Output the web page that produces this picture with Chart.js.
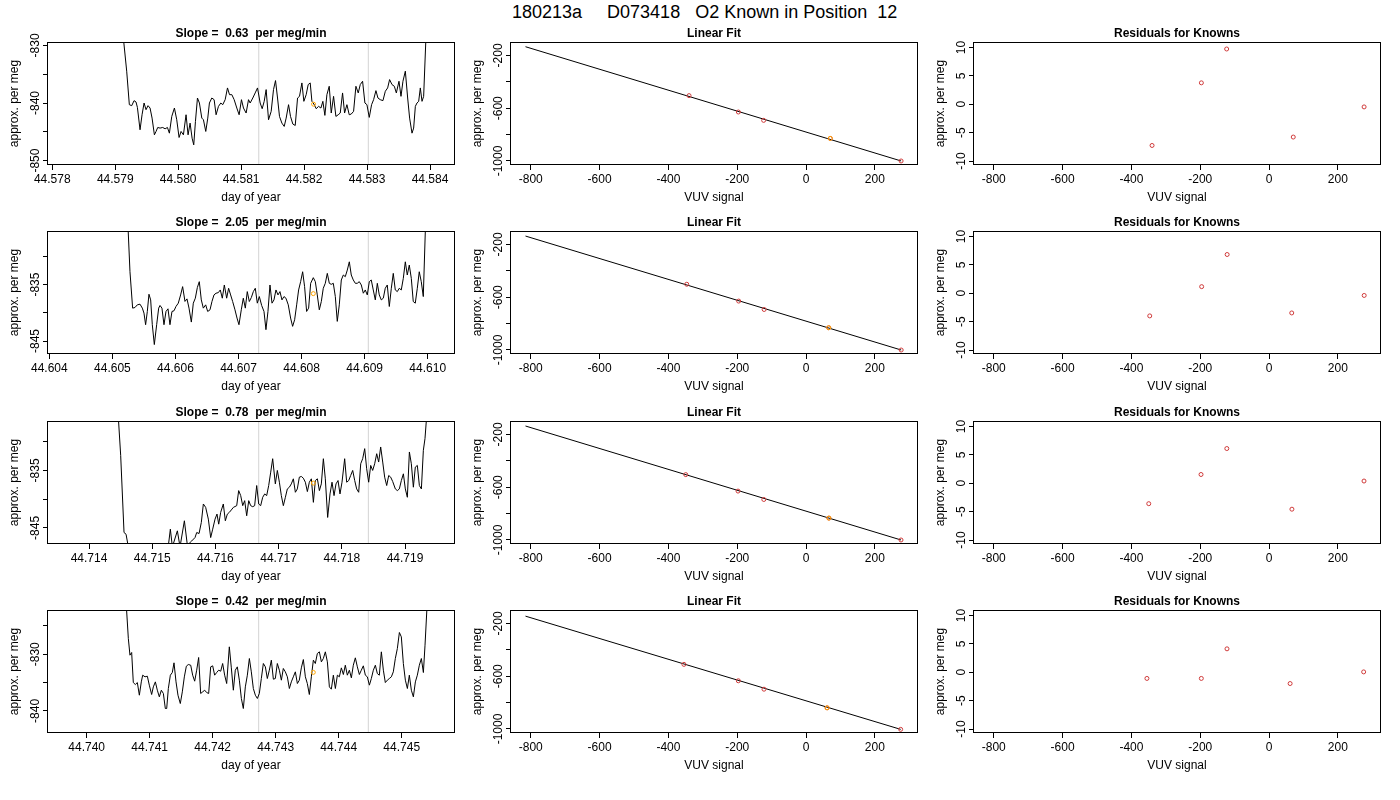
<!DOCTYPE html>
<html>
<head>
<meta charset="utf-8">
<title>180213a D073418 O2 Known in Position 12</title>
<script src="https://cdn.jsdelivr.net/npm/chart.js@4.4.1/dist/chart.umd.min.js"></script>
<style>
  html, body { margin: 0; padding: 0; background: #fff; overflow: hidden; }
  #page { position: relative; width: 1400px; height: 800px; }
  #main { position: absolute; left: 512px; top: 2px; font: 18px "Liberation Sans", Arial, sans-serif;
          white-space: pre; line-height: 20px; color: #000; }
  canvas { position: absolute; }
</style>
</head>
<body>
<div id="page">
  <div id="main">180213a     D073418   O2 Known in Position  12</div>
</div>
<script>

/* ---- time series of each known run (day of year vs approx. per meg) ---- */
const day1X = [44.579118, 44.579182, 44.579224, 44.579262, 44.579299, 44.579330, 44.579352, 44.579394, 44.579426, 44.579458,
  44.579489, 44.579521, 44.579553, 44.579585, 44.579622, 44.579648, 44.579675, 44.579712, 44.579754, 44.579792,
  44.579829, 44.579860, 44.579898, 44.579940, 44.579977, 44.580014, 44.580046, 44.580083, 44.580125, 44.580157,
  44.580189, 44.580221, 44.580247, 44.580274, 44.580306, 44.580337, 44.580375, 44.580401, 44.580438, 44.580470,
  44.580496, 44.580534, 44.580571, 44.580602, 44.580640, 44.580677, 44.580708, 44.580746, 44.580783, 44.580815,
  44.580852, 44.580889, 44.580931, 44.580968, 44.581005, 44.581037, 44.581079, 44.581117, 44.581143, 44.581185,
  44.581223, 44.581260, 44.581302, 44.581334, 44.581366, 44.581397, 44.581435, 44.581477, 44.581514, 44.581546,
  44.581578, 44.581609, 44.581647, 44.581684, 44.581715, 44.581753, 44.581784, 44.581821, 44.581859, 44.581896,
  44.581927, 44.581965, 44.581996, 44.582033, 44.582065, 44.582097, 44.582124, 44.582155, 44.582192, 44.582230,
  44.582267, 44.582298, 44.582330, 44.582362, 44.582399, 44.582431, 44.582468, 44.582505, 44.582542, 44.582574,
  44.582611, 44.582643, 44.582680, 44.582717, 44.582749, 44.582786, 44.582823, 44.582860, 44.582892, 44.582929,
  44.582966, 44.582998, 44.583035, 44.583072, 44.583104, 44.583141, 44.583173, 44.583210, 44.583252, 44.583290,
  44.583327, 44.583358, 44.583396, 44.583433, 44.583465, 44.583507, 44.583539, 44.583570, 44.583608, 44.583645,
  44.583676, 44.583714, 44.583740, 44.583767, 44.583793, 44.583820, 44.583846, 44.583873, 44.583899, 44.583941];
const day1Y = [-827.5, -834.47, -840.29, -840.46, -839.59, -839.82, -840.76, -844.65, -842.04, -840.00,
  -841.16, -840.46, -840.87, -842.62, -845.53, -844.94, -844.25, -844.36, -844.25, -844.48,
  -844.25, -845.24, -842.33, -840.87, -842.91, -845.99, -844.94, -845.53, -842.04, -845.53,
  -843.49, -846.11, -847.27, -843.20, -839.13, -840.00, -842.62, -842.91, -844.94, -842.62,
  -840.00, -839.13, -839.42, -842.04, -840.58, -840.00, -840.29, -839.42, -837.38, -838.55,
  -838.55, -839.42, -840.87, -842.04, -839.42, -840.87, -841.74, -839.42, -840.00, -839.13,
  -838.25, -837.38, -840.00, -840.99, -839.71, -837.67, -842.91, -841.45, -837.67, -836.10,
  -839.13, -842.33, -843.49, -844.07, -842.62, -840.29, -842.33, -843.66, -843.90, -839.13,
  -838.84, -836.51, -839.71, -838.55, -836.80, -836.51, -839.71, -840.17, -840.99, -840.58,
  -840.87, -839.71, -842.15, -838.55, -837.09, -841.74, -838.84, -842.33, -842.04, -841.74,
  -838.25, -841.74, -840.29, -842.04, -841.92, -841.45, -837.09, -838.25, -836.80, -836.22,
  -840.00, -840.29, -842.50, -840.29, -839.42, -837.85, -839.13, -839.42, -839.59, -837.96,
  -837.38, -835.93, -836.80, -837.09, -838.25, -836.22, -838.84, -836.22, -834.47, -839.13,
  -842.62, -845.24, -844.36, -840.58, -840.00, -839.71, -837.38, -839.71, -838.84, -827.0];

const day2X = [44.605237, 44.605279, 44.605321, 44.605358, 44.605395, 44.605438, 44.605475, 44.605501, 44.605527, 44.605554,
  44.605580, 44.605607, 44.605633, 44.605665, 44.605702, 44.605734, 44.605755, 44.605786, 44.605818, 44.605850,
  44.605882, 44.605913, 44.605945, 44.605977, 44.606008, 44.606045, 44.606082, 44.606114, 44.606151, 44.606183,
  44.606215, 44.606252, 44.606283, 44.606315, 44.606347, 44.606378, 44.606410, 44.606442, 44.606479, 44.606511,
  44.606548, 44.606579, 44.606611, 44.606643, 44.606680, 44.606711, 44.606743, 44.606775, 44.606812, 44.606843,
  44.606875, 44.606907, 44.606944, 44.606976, 44.607007, 44.607044, 44.607076, 44.607108, 44.607139, 44.607171,
  44.607203, 44.607235, 44.607266, 44.607298, 44.607330, 44.607367, 44.607404, 44.607435, 44.607467, 44.607499,
  44.607531, 44.607562, 44.607594, 44.607626, 44.607657, 44.607689, 44.607721, 44.607752, 44.607789, 44.607826,
  44.607858, 44.607890, 44.607922, 44.607953, 44.607985, 44.608017, 44.608048, 44.608080, 44.608112, 44.608144,
  44.608186, 44.608218, 44.608249, 44.608281, 44.608313, 44.608344, 44.608376, 44.608408, 44.608440, 44.608471,
  44.608503, 44.608535, 44.608566, 44.608598, 44.608630, 44.608662, 44.608693, 44.608725, 44.608757, 44.608788,
  44.608820, 44.608852, 44.608883, 44.608915, 44.608947, 44.608979, 44.609010, 44.609042, 44.609074, 44.609105,
  44.609137, 44.609169, 44.609201, 44.609232, 44.609264, 44.609296, 44.609327, 44.609359, 44.609391, 44.609423,
  44.609454, 44.609486, 44.609518, 44.609549, 44.609581, 44.609613, 44.609645, 44.609676, 44.609708, 44.609740,
  44.609771, 44.609803, 44.609835, 44.609866, 44.609898, 44.609930, 44.609972];
const day2Y = [-822.0, -832.72, -839.17, -839.06, -838.59, -838.47, -839.17, -840.05, -842.11, -839.76,
  -836.71, -837.71, -842.11, -845.63, -842.11, -839.17, -838.70, -839.17, -842.11, -839.76,
  -839.29, -842.11, -839.76, -839.64, -838.88, -838.29, -836.83, -835.36, -837.98, -837.53,
  -839.17, -841.64, -838.29, -837.41, -835.53, -834.48, -837.71, -839.17, -838.59, -839.76,
  -839.47, -838.00, -836.83, -836.53, -836.42, -835.95, -837.41, -835.07, -837.41, -835.65,
  -836.83, -838.00, -839.47, -840.93, -842.11, -839.47, -837.41, -839.17, -836.24, -838.00,
  -837.30, -836.24, -835.65, -838.29, -837.12, -838.70, -839.76, -842.99, -839.76, -835.07,
  -838.29, -837.71, -835.95, -836.83, -836.24, -837.71, -837.12, -837.41, -838.59, -840.93,
  -842.40, -841.23, -838.59, -835.95, -834.48, -832.72, -835.36, -839.76, -839.17, -834.77,
  -833.77, -834.48, -836.83, -839.47, -838.00, -835.65, -834.77, -833.01, -834.77, -834.95,
  -834.77, -837.12, -841.52, -838.59, -834.18, -833.30, -833.60, -832.42, -830.96, -833.30,
  -834.18, -834.77, -834.77, -834.48, -835.07, -836.53, -835.95, -836.83, -834.48, -834.18,
  -835.95, -837.71, -834.77, -836.83, -837.71, -837.41, -835.65, -835.07, -838.88, -835.65,
  -833.01, -835.95, -836.24, -835.65, -835.95, -833.89, -830.96, -833.30, -831.54, -833.89,
  -838.00, -838.29, -835.65, -832.72, -834.48, -837.12, -822.0];

const day3X = [44.714454, 44.714501, 44.714554, 44.714586, 44.714638, 44.714807, 44.715018, 44.715203, 44.715255, 44.715287,
  44.715319, 44.715398, 44.715440, 44.715509, 44.715556, 44.715625, 44.715677, 44.715704, 44.715741, 44.715777,
  44.715809, 44.715846, 44.715888, 44.715925, 44.715957, 44.715994, 44.716025, 44.716052, 44.716083, 44.716125,
  44.716157, 44.716189, 44.716220, 44.716263, 44.716284, 44.716337, 44.716368, 44.716400, 44.716432, 44.716463,
  44.716495, 44.716527, 44.716558, 44.716590, 44.716621, 44.716653, 44.716685, 44.716716, 44.716748, 44.716780,
  44.716811, 44.716843, 44.716875, 44.716906, 44.716948, 44.716980, 44.717012, 44.717043, 44.717075, 44.717107,
  44.717138, 44.717170, 44.717201, 44.717233, 44.717265, 44.717296, 44.717328, 44.717360, 44.717391, 44.717423,
  44.717455, 44.717486, 44.717518, 44.717550, 44.717581, 44.717613, 44.717645, 44.717676, 44.717708, 44.717739,
  44.717776, 44.717813, 44.717845, 44.717877, 44.717908, 44.717940, 44.717971, 44.718003, 44.718045, 44.718077,
  44.718109, 44.718140, 44.718172, 44.718204, 44.718235, 44.718267, 44.718299, 44.718330, 44.718362, 44.718393,
  44.718425, 44.718457, 44.718488, 44.718520, 44.718552, 44.718583, 44.718615, 44.718647, 44.718678, 44.718710,
  44.718742, 44.718773, 44.718805, 44.718847, 44.718879, 44.718910, 44.718942, 44.718974, 44.719005, 44.719037,
  44.719069, 44.719100, 44.719132, 44.719163, 44.719195, 44.719227, 44.719259, 44.719290, 44.719316, 44.719353];
const day3Y = [-824.0, -832.38, -845.80, -846.10, -849.3, -850.5, -850.8, -850.2, -848.14, -845.22,
  -848.3, -845.51, -848.3, -843.76, -848.0, -847.27, -846.68, -845.80, -845.98, -844.05,
  -840.84, -841.43, -843.47, -846.68, -845.22, -843.47, -842.59, -844.35, -842.30, -840.84,
  -843.76, -842.59, -842.30, -841.72, -841.43, -841.13, -838.51, -839.38, -841.13, -840.26,
  -842.89, -840.26, -841.13, -841.31, -841.13, -837.63, -840.84, -841.13, -839.67, -839.09,
  -839.38, -837.63, -835.30, -832.96, -837.34, -835.00, -837.05, -839.38, -841.13, -839.67,
  -838.22, -837.92, -837.34, -836.46, -838.80, -838.22, -836.17, -836.05, -836.35, -837.05,
  -838.68, -837.05, -836.46, -840.55, -836.76, -836.46, -838.51, -837.34, -832.96, -836.46,
  -843.18, -839.09, -837.05, -839.38, -837.34, -836.76, -839.09, -837.05, -832.96, -837.05,
  -836.76, -835.88, -835.00, -836.76, -838.22, -838.80, -833.84, -832.96, -831.21, -834.71,
  -837.05, -834.13, -835.00, -833.84, -832.09, -833.54, -830.92, -833.54, -836.17, -837.63,
  -835.88, -836.17, -836.93, -838.22, -838.51, -838.22, -836.76, -835.59, -838.22, -839.67,
  -831.79, -833.84, -837.92, -834.42, -834.13, -837.63, -838.22, -831.50, -829.46, -824.0];

const day4X = [44.740624, 44.740661, 44.740687, 44.740714, 44.740740, 44.740772, 44.740804, 44.740836, 44.740867, 44.740889,
  44.740926, 44.740963, 44.740994, 44.741031, 44.741058, 44.741090, 44.741121, 44.741153, 44.741185, 44.741217,
  44.741248, 44.741270, 44.741296, 44.741328, 44.741359, 44.741386, 44.741418, 44.741449, 44.741486, 44.741518,
  44.741550, 44.741582, 44.741613, 44.741651, 44.741682, 44.741714, 44.741746, 44.741777, 44.741809, 44.741841,
  44.741873, 44.741904, 44.741936, 44.741968, 44.742000, 44.742031, 44.742063, 44.742095, 44.742127, 44.742158,
  44.742190, 44.742222, 44.742264, 44.742296, 44.742328, 44.742359, 44.742391, 44.742423, 44.742455, 44.742486,
  44.742518, 44.742550, 44.742582, 44.742613, 44.742645, 44.742677, 44.742709, 44.742740, 44.742772, 44.742804,
  44.742836, 44.742867, 44.742899, 44.742931, 44.742963, 44.742994, 44.743026, 44.743058, 44.743090, 44.743121,
  44.743153, 44.743185, 44.743217, 44.743248, 44.743280, 44.743312, 44.743344, 44.743375, 44.743407, 44.743439,
  44.743471, 44.743502, 44.743534, 44.743566, 44.743598, 44.743629, 44.743661, 44.743693, 44.743725, 44.743756,
  44.743788, 44.743820, 44.743852, 44.743883, 44.743915, 44.743947, 44.743979, 44.744010, 44.744042, 44.744074,
  44.744105, 44.744137, 44.744169, 44.744201, 44.744232, 44.744264, 44.744296, 44.744328, 44.744359, 44.744391,
  44.744423, 44.744455, 44.744487, 44.744518, 44.744550, 44.744582, 44.744613, 44.744645, 44.744677, 44.744709,
  44.744740, 44.744772, 44.744804, 44.744836, 44.744867, 44.744899, 44.744931, 44.744963, 44.744994, 44.745026,
  44.745058, 44.745090, 44.745121, 44.745153, 44.745185, 44.745217, 44.745248, 44.745280, 44.745312, 44.745344,
  44.745370, 44.745407];
const day4Y = [-820.5, -827.23, -830.17, -829.70, -835.00, -835.35, -835.00, -837.23, -834.88, -833.70,
  -833.99, -833.88, -835.46, -837.11, -835.76, -834.88, -836.35, -837.52, -836.35, -836.93,
  -839.58, -839.58, -836.05, -833.70, -833.23, -831.52, -834.88, -837.23, -838.70, -836.64,
  -834.00, -832.11, -831.82, -831.94, -833.70, -834.76, -832.82, -830.58, -836.93, -836.64,
  -836.35, -836.76, -836.93, -832.23, -832.05, -833.70, -833.23, -832.82, -833.00, -831.64,
  -833.70, -835.17, -828.70, -832.41, -836.35, -832.82, -832.23, -834.58, -837.81, -839.58,
  -835.76, -833.70, -830.76, -833.11, -836.05, -837.23, -837.81, -836.93, -834.29, -831.64,
  -832.23, -834.29, -832.82, -831.05, -834.41, -834.29, -831.64, -832.82, -834.58, -832.52,
  -833.11, -833.99, -836.05, -834.88, -833.99, -833.11, -835.17, -834.58, -832.41, -830.94,
  -833.99, -835.17, -837.11, -833.99, -831.05, -831.64, -829.88, -829.58, -831.35, -830.76,
  -829.58, -831.35, -835.76, -836.17, -833.70, -836.05, -833.70, -833.99, -832.41, -833.58,
  -831.94, -833.70, -832.82, -834.17, -831.94, -830.64, -832.23, -833.58, -832.82, -832.05,
  -833.70, -834.00, -835.46, -834.29, -832.82, -831.94, -833.41, -833.70, -829.58, -832.82,
  -835.00, -834.58, -834.29, -833.99, -833.11, -830.76, -829.00, -826.17, -826.94, -831.64,
  -834.58, -836.05, -833.70, -836.35, -837.52, -834.88, -833.70, -831.94, -830.76, -833.23,
  -828.41, -820.5];

/* grey markers of the averaging window and the orange mean point */
const marks = [[44.58128, 44.58302], [44.60732, 44.609058], [44.716685, 44.71842], [44.74273, 44.74447]];
const means = [[44.582150, -840.2], [44.608186, -836.6], [44.717549, -837.2], [44.743597, -833.2]];
const slopes = ["0.63", "2.05", "0.78", "0.42"];

/* axis limits and ticks of the time series panels */
const dayRanges = [[44.577932, 44.584381], [44.603979, 44.610417], [44.713351, 44.719775], [44.739386, 44.745830]];
const megRanges = [[-850.77, -829.4], [-847.3, -825.5], [-847.8, -826.4], [-843.9, -822.2]];
const dayTicks = [
  [44.578, 44.579, 44.580, 44.581, 44.582, 44.583, 44.584],
  [44.604, 44.605, 44.606, 44.607, 44.608, 44.609, 44.610],
  [44.714, 44.715, 44.716, 44.717, 44.718, 44.719],
  [44.740, 44.741, 44.742, 44.743, 44.744, 44.745]];
const megTicks = [[-850, -845, -840, -835, -830], [-845, -840, -835, -830], [-845, -840, -835, -830], [-840, -835, -830, -825]];
const megLabels = [["-850", "", "-840", "", "-830"], ["-845", "", "-835", ""], ["-845", "", "-835", ""], ["-840", "", "-830", ""]];

/* ---- linear fit of the knowns: VUV signal vs approx. per meg ---- */
const vuv = [
  [-340.0, -196.7, -123.2, 70.4, 276.3],
  [-346.7, -195.8, -121.8, 66.0, 276.5],
  [-349.6, -197.7, -122.7, 66.5, 276.0],
  [-354.9, -196.8, -122.2, 61.2, 275.0]];
const known = [
  [-504.6, -628.8, -692.0, -829.0, -1000.0],
  [-501.8, -629.2, -692.9, -831.3, -1000.2],
  [-504.6, -629.2, -692.9, -834.1, -1000.0],
  [-510.1, -634.7, -698.4, -839.6, -1003.0]];
const fitStart = [[-815.4, -133.7], [-815.4, -136.3], [-815.4, -136.0], [-815.4, -144.6]];
const resid = [
  [-7.26, 3.77, 9.73, -5.78, -0.47],
  [-3.99, 1.16, 6.82, -3.47, -0.39],
  [-3.60, 1.54, 6.11, -4.57, 0.39],
  [-1.09, -1.09, 4.12, -1.99, 0.06]];
const thisKnown = 3;   /* index of the known drawn in orange */

const vuvRange = [-857.5, 322.5], fitRange = [-1030.5, -98], resRange = [-10.7, 10.96];
const vuvTicks = [-800, -600, -400, -200, 0, 200];
const fitTicks = [-1000, -800, -600, -400, -200];
const fitLabels = ["-1000", "", "-600", "", "-200"];
const resTicks = [-10, -5, 0, 5, 10];
const resLabels = ["-10", "-5", "0", "5", "10"];

/* ---- layout ---- */
const FONT = "'Liberation Sans', Arial, sans-serif";
const COLS = [48, 511, 974], ROWS = [42, 231, 421, 610];
const BOX_W = 406, BOX_H = 123, LEFT = 48, TOP = 30, BOTTOM = 45, RIGHT = 20;
const RED = "#cf3a3a", ORANGE = "#ffa500";

Chart.defaults.font.family = FONT;
Chart.defaults.font.size = 12;
Chart.defaults.color = "#000";

const meter = document.createElement("canvas").getContext("2d");
meter.font = "12px " + FONT;

function pts(xs, ys) {
   return xs.map((x, i) => ({x: x, y: ys[i]}));
}

function axisY(range, ticks, labels) {
   /* rotated labels: keep their centre ~12px left of the box */
   let widest = Math.max(...labels.map(t => meter.measureText(t).width));
   return {
      type: "linear", position: "left", min: range[0], max: range[1],
      afterBuildTicks: s => { s.ticks = ticks.map(v => ({value: v})); },
      afterFit: s => { s.width = LEFT; },
      ticks: {autoSkip: false, minRotation: 90, maxRotation: 90, crossAlign: "center",
              padding: 7 - widest / 2, callback: (v, i) => labels[i]},
      grid: {drawOnChartArea: false, tickLength: 5, color: "#000"},
      border: {display: false},
      title: {display: true, text: "approx. per meg", padding: {top: 7, bottom: 0}}
   };
}

function axisX(range, ticks, labels, text) {
   return {
      type: "linear", position: "bottom", min: range[0], max: range[1],
      afterBuildTicks: s => { s.ticks = ticks.map(v => ({value: v})); },
      afterFit: s => { s.height = BOTTOM; },
      ticks: {autoSkip: false, maxRotation: 0, padding: 2, callback: (v, i) => labels[i]},
      grid: {drawOnChartArea: false, tickLength: 5, color: "#000"},
      border: {display: false},
      title: {display: true, text: text, padding: {top: 0, bottom: 5}}
   };
}

const boxPlugin = {
   id: "box",
   afterDraw(chart) {
      let {ctx, chartArea: a} = chart;
      ctx.save();
      ctx.strokeStyle = "#000";
      ctx.lineWidth = 1;
      ctx.strokeRect(Math.round(a.left) - 0.5, Math.round(a.top) + 0.5,
                     Math.round(a.right - a.left) + 1, Math.round(a.bottom - a.top) - 1);
      ctx.restore();
   }
};

function lineSet(data, color, order) {
   return {data: data, showLine: true, borderColor: color, borderWidth: 1,
           pointRadius: 0, tension: 0, fill: false, order: order};
}

function pointSet(data, color, order) {
   return {data: data, showLine: false, pointRadius: 2, pointBorderWidth: 1,
           pointBorderColor: color, pointBackgroundColor: "rgba(0,0,0,0)", order: order};
}

function panel(row, col, title, scales, datasets) {
   let c = document.createElement("canvas");
   c.width = LEFT + BOX_W + RIGHT;
   c.height = TOP + BOX_H + BOTTOM;
   c.style.left = (COLS[col] - LEFT) + "px";
   c.style.top = (ROWS[row] - TOP) + "px";
   document.getElementById("page").appendChild(c);
   return new Chart(c, {
      type: "scatter",
      data: {datasets: datasets},
      options: {
         responsive: false, animation: false, events: [],
         layout: {padding: {right: RIGHT}},
         plugins: {
            legend: {display: false},
            tooltip: {enabled: false},
            title: {display: true, text: title, fullSize: false,
                    font: {size: 12, weight: "bold"}, padding: {top: 14, bottom: 1.6}}
         },
         scales: scales
      },
      plugins: [boxPlugin]
   });
}

const dayX = [day1X, day2X, day3X, day4X];
const dayY = [day1Y, day2Y, day3Y, day4Y];

for (let r = 0; r < 4; r++) {
   /* - - time series - - */
   let mr = megRanges[r];
   let greys = marks[r].map(m => lineSet([{x: m, y: mr[0]}, {x: m, y: mr[1]}], "#d3d3d3", 3));
   panel(r, 0, `Slope =  ${slopes[r]}  per meg/min`, {
         x: axisX(dayRanges[r], dayTicks[r], dayTicks[r].map(v => v.toFixed(3)), "day of year"),
         y: axisY(mr, megTicks[r], megLabels[r])
      },
      greys.concat([
         lineSet(pts(dayX[r], dayY[r]), "#000", 2),
         pointSet([{x: means[r][0], y: means[r][1]}], ORANGE, 1)
      ]));

   /* - - linear fit - - */
   let last = vuv[r].length - 1;
   panel(r, 1, "Linear Fit", {
         x: axisX(vuvRange, vuvTicks, vuvTicks.map(String), "VUV signal"),
         y: axisY(fitRange, fitTicks, fitLabels)
      }, [
         lineSet([{x: fitStart[r][0], y: fitStart[r][1]}, {x: vuv[r][last], y: known[r][last]}], "#000", 3),
         pointSet(pts(vuv[r], known[r]), RED, 2),
         pointSet([{x: vuv[r][thisKnown], y: known[r][thisKnown]}], ORANGE, 1)
      ]);

   /* - - residuals - - */
   panel(r, 2, "Residuals for Knowns", {
         x: axisX(vuvRange, vuvTicks, vuvTicks.map(String), "VUV signal"),
         y: axisY(resRange, resTicks, resLabels)
      }, [
         pointSet(pts(vuv[r], resid[r]), RED, 1)
      ]);
}
</script>
</body>
</html>
